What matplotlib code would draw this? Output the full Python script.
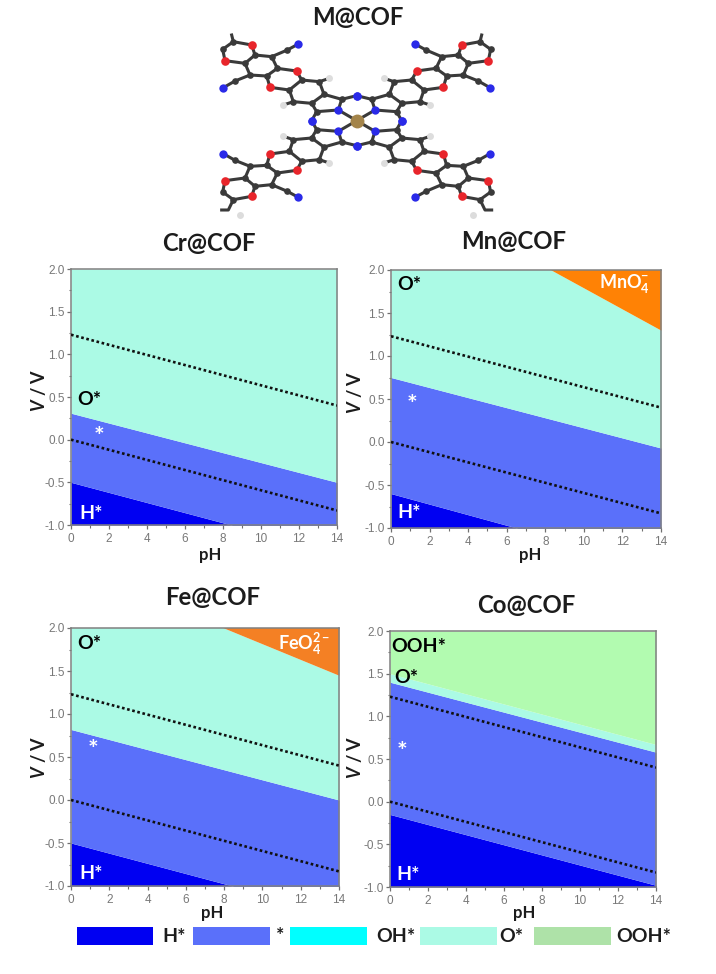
import matplotlib
matplotlib.use("Agg")
import matplotlib.pyplot as plt
from matplotlib.patches import Rectangle
from matplotlib.ticker import MultipleLocator

W, H = 716, 974
plt.rcParams['font.family'] = ['Lato', 'DejaVu Sans']
plt.rcParams['mathtext.fontset'] = 'custom'
plt.rcParams['mathtext.rm'] = 'Lato:bold'
plt.rcParams['mathtext.it'] = 'Lato:italic:bold'
plt.rcParams['mathtext.bf'] = 'Lato:bold'
plt.rcParams['mathtext.default'] = 'regular'

# ---- data ----
PH = [0, 14]
SHE = [1.23, 0.40]
RHE = [0.0, -0.83]
COL_H = '#0000F2'
COL_S = '#5A70FA'
COL_OH = '#00FFFF'
COL_O = '#ABFAE5'
COL_OOH = '#B2FBB0'
COL_MN = '#FF8205'
COL_FE = '#F48024'

legend_names = ['H*', '*', 'OH*', 'O*', 'OOH*']
legend_colors = [COL_H, COL_S, COL_OH, COL_O, '#AEE2A8']
legend_boxes = [(77, 153), (193, 270), (290, 367), (420, 497), (534, 611)]
legend_text_x = [162, 276, 376, 499, 616]

# panel: name, axes px box (l, t, r, b), region upper boundaries (pH0, pH14), labels
cr_regions = [(COL_H, -1.0, -0.50, -1.0, -1.33), (COL_S, -0.50, 0.31, -1.33, -0.50), (COL_O, 0.31, 2.0, -0.50, 2.0)]
mn_regions = [(COL_H, -1.0, -0.60, -1.0, -1.46), (COL_S, -0.60, 0.75, -1.46, -0.07),
              (COL_O, 0.75, 3.02, -0.07, 1.30), (COL_MN, 3.02, 3.02, 1.30, 3.02)]
fe_regions = [(COL_H, -1.0, -0.50, -1.0, -1.33), (COL_S, -0.50, 0.82, -1.33, 0.0),
              (COL_O, 0.82, 2.73, 0.0, 1.45), (COL_FE, 2.73, 2.73, 1.45, 2.73)]
co_regions = [(COL_H, -1.0, -0.15, -1.0, -0.98), (COL_S, -0.15, 1.40, -0.98, 0.58),
              (COL_O, 1.40, 1.50, 0.58, 0.67), (COL_OOH, 1.50, 2.0, 0.67, 2.0)]

cr_labels = [('O*', 0.35, 0.47, 'black'), ('*', 1.45, 0.03, 'white'), ('H*', 0.42, -0.87, 'white')]
mn_labels = [('O*', 0.3, 1.83, 'black'), ('*', 1.1, 0.42, 'white'), ('H*', 0.32, -0.82, 'white'),
             (r'MnO$_4^{-}$', 10.8, 1.84, 'white')]
fe_labels = [('O*', 0.32, 1.82, 'black'), ('*', 1.15, 0.57, 'white'), ('H*', 0.42, -0.86, 'white'),
             (r'FeO$_4^{2-}$', 10.8, 1.82, 'white')]
co_labels = [('OOH*', 0.08, 1.82, 'black'), ('O*', 0.25, 1.46, 'black'), ('*', 0.65, 0.58, 'white'),
             ('H*', 0.35, -0.85, 'white')]

panels = [
    ('Cr@COF', (71, 269, 337, 525), cr_regions, cr_labels, (209, 243), (210, 555), (38, 390)),
    ('Mn@COF', (391, 270, 661, 528), mn_regions, mn_labels, (514, 241), (530, 555), (355, 392)),
    ('Fe@COF', (71, 628, 339, 886), fe_regions, fe_labels, (213, 597), (212, 913), (38, 757)),
    ('Co@COF', (390, 631, 656, 887), co_regions, co_labels, (526, 605), (524, 913), (355, 757)),
]

# molecule: one arm in crop coordinates, mirrored about the metal centre
CX, CY = 470, 362
carbon = [(425, 298), (350, 335), (372, 283), (358, 245), (305, 240), (268, 270), (280, 305), (335, 310),
          (232, 205), (215, 170), (165, 165), (135, 190), (150, 225), (200, 228),
          (262, 150), (105, 243), (100, 125), (68, 148)]
nitrogen = [(470, 287), (335, 362), (415, 330), (295, 132), (70, 263)]
oxygen = [(290, 213), (210, 262), (155, 135), (75, 182)]
hydrogen = [(388, 235), (250, 315)]
bonds = [((415, 330), (425, 298)), ((425, 298), (470, 287)), ((415, 330), (350, 335)), ((350, 335), (335, 362)),
         ((415, 330), (470, 362)), ((425, 298), (372, 283)), ((350, 335), (335, 310)),
         ((372, 283), (358, 245)), ((358, 245), (305, 240)), ((305, 240), (268, 270)), ((268, 270), (280, 305)),
         ((280, 305), (335, 310)), ((335, 310), (372, 283)),
         ((305, 240), (290, 213)), ((290, 213), (232, 205)), ((268, 270), (210, 262)), ((210, 262), (200, 228)),
         ((232, 205), (215, 170)), ((215, 170), (165, 165)), ((165, 165), (135, 190)), ((135, 190), (150, 225)),
         ((150, 225), (200, 228)), ((200, 228), (232, 205)),
         ((215, 170), (262, 150)), ((262, 150), (295, 132)), ((150, 225), (105, 243)), ((105, 243), (70, 263)),
         ((165, 165), (155, 135)), ((155, 135), (100, 125)), ((135, 190), (75, 182)), ((75, 182), (68, 148)),
         ((68, 148), (100, 125)), ((358, 245), (388, 235)), ((280, 305), (250, 315))]
top_tail = [(100, 125), (95, 105)]
bottom_tail = [(100, 599), (85, 630), (65, 630)]
bottom_h = (120, 646)
METAL = (470, 362)


def mirrors(p):
    x, y = p
    return [(x, y), (2 * CX - x, y), (x, 2 * CY - y), (2 * CX - x, 2 * CY - y)]


fig = plt.figure(figsize=(W / 100, H / 100), dpi=100, facecolor='white')


def fx(x):
    return x / W


def fy(y):
    return 1 - y / H


TXT = '#1c1c1c'
fig.text(fx(358), fy(18), 'M@COF', ha='center', va='center', fontsize=17.3, fontweight='bold', color=TXT)

# molecule
m = fig.add_axes([fx(200), fy(225), 320 / W, 225 / H])
m.set_xlim(0, 960)
m.set_ylim(675, 0)
m.axis('off')
BOND = 2.2
for a, b in bonds:
    for pa, pb in zip(mirrors(a), mirrors(b)):
        m.plot([pa[0], pb[0]], [pa[1], pb[1]], color='#3a3a3a', lw=BOND, solid_capstyle='round', zorder=1)
for pa, pb in zip(mirrors(top_tail[0])[:2], mirrors(top_tail[1])[:2]):
    m.plot([pa[0], pb[0]], [pa[1], pb[1]], color='#3a3a3a', lw=BOND, zorder=1)
for sgn in (0, 1):
    xs = [x if sgn == 0 else 2 * CX - x for x, _ in bottom_tail]
    ys = [y for _, y in bottom_tail]
    m.plot(xs, ys, color='#3a3a3a', lw=BOND, zorder=1)
    hx = bottom_h[0] if sgn == 0 else 2 * CX - bottom_h[0]
    m.plot([hx], [bottom_h[1]], 'o', ms=5, color='#dcdcdc', mew=0, zorder=2)


def atoms(pts, color, ms):
    xs, ys = [], []
    for p in pts:
        for q in mirrors(p):
            xs.append(q[0])
            ys.append(q[1])
    m.plot(xs, ys, 'o', ms=ms, color=color, mew=0, zorder=3)


atoms(carbon, '#3a3a3a', 4.8)
atoms(hydrogen, '#dddddd', 5)
atoms(oxygen, '#e8252b', 6.2)
atoms(nitrogen, '#2a2ae8', 6)
m.plot([METAL[0]], [METAL[1]], 'o', ms=10, color='#a3844a', mew=0, zorder=4)

# panels
for name, (l, t, r, b), regions, labels, title_xy, ph_xy, v_xy in panels:
    ax = fig.add_axes([fx(l), fy(b), (r - l) / W, (b - t) / H])
    for color, y0a, y0b, y1a, y1b in regions:
        ax.fill_between(PH, [y0a, y1a], [y0b, y1b], color=color, lw=0, zorder=1)
    ax.plot(PH, SHE, color='#101010', lw=1.9, ls=(0, (1, 1)), zorder=3)
    ax.plot(PH, RHE, color='#101010', lw=1.9, ls=(0, (1, 1)), zorder=3)
    ax.set_xlim(0, 14)
    ax.set_ylim(-1, 2)
    ax.xaxis.set_major_locator(MultipleLocator(2))
    ax.xaxis.set_minor_locator(MultipleLocator(1))
    ax.yaxis.set_major_locator(MultipleLocator(0.5))
    ax.yaxis.set_minor_locator(MultipleLocator(0.25))
    ax.xaxis.set_major_formatter(lambda v, pos: f'{v:.0f}')
    ax.yaxis.set_major_formatter(lambda v, pos: f'{v:.1f}')
    ax.tick_params(which='major', length=3, width=0.9, color='#707070', labelcolor='#787878',
                   labelsize=8.5, pad=1.5)
    ax.tick_params(axis='x', which='major', pad=3)
    ax.tick_params(which='minor', length=1.8, width=0.8, color='#707070')
    for lab in ax.get_xticklabels() + ax.get_yticklabels():
        lab.set_family(['Liberation Sans'])
    for sp in ax.spines.values():
        sp.set_color('#808080')
        sp.set_linewidth(1.1)
    for text, x, y, color in labels:
        if text == '*':
            ax.text(x, y, text, color=color, fontsize=18, fontweight='bold', ha='center', va='center', zorder=5)
        else:
            size = 13 if 'O$' in text else 14
            ax.text(x, y, text, color=color, fontsize=size, fontweight='bold', ha='left', va='center', zorder=5)
    fig.text(fx(title_xy[0]), fy(title_xy[1]), name, ha='center', va='center', fontsize=17.3,
             fontweight='bold', color=TXT)
    fig.text(fx(ph_xy[0]), fy(ph_xy[1]), 'pH', ha='center', va='center', fontsize=12,
             fontweight='bold', color=TXT)
    fig.text(fx(v_xy[0]), fy(v_xy[1]), r'$\mathit{V}$ / V', ha='center', va='center', rotation=90,
             fontsize=13, fontweight='bold', color=TXT)

# legend
la = fig.add_axes([0, 0, 1, 1], facecolor='none')
la.set_xlim(0, W)
la.set_ylim(H, 0)
la.axis('off')
for name, color, (x0, x1), tx in zip(legend_names, legend_colors, legend_boxes, legend_text_x):
    la.add_patch(Rectangle((x0, 927), x1 - x0, 18, facecolor=color, edgecolor='none'))
    la.text(tx, 936, name, ha='left', va='center', fontsize=14, fontweight='bold', color=TXT)

fig.savefig('out.png', dpi=100, facecolor='white')
